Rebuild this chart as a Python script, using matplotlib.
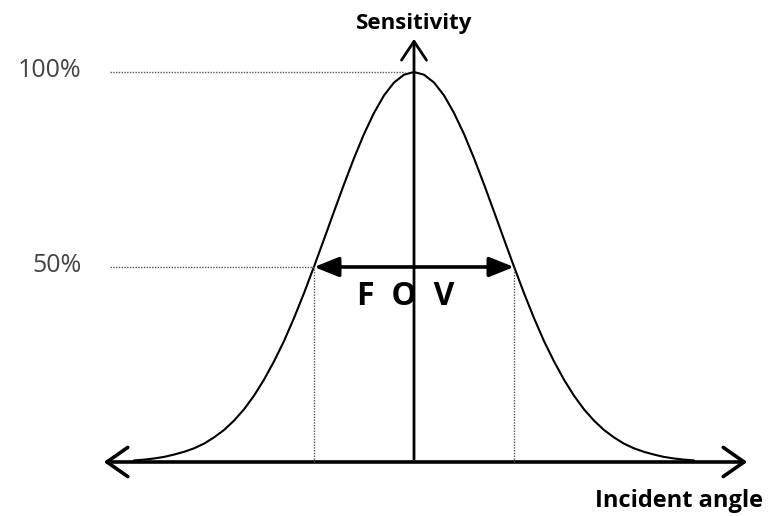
import numpy as np
import matplotlib
matplotlib.use('Agg')
from matplotlib import pyplot as plt
from matplotlib.patches import FancyArrowPatch

# Incident angle (arbitrary units, 0 = normal incidence) and relative sensitivity (%).
angle = [-56, -54, -52, -50, -48, -46, -44, -42, -40, -38, -36, -34, -32, -30,
         -28, -26, -24, -22, -20, -18, -16, -14, -12, -10, -8, -6, -4, -2, 0,
         2, 4, 6, 8, 10, 12, 14, 16, 18, 20, 22, 24, 26, 28, 30,
         32, 34, 36, 38, 40, 42, 44, 46, 48, 50, 52, 54, 56]
sensitivity = [0.4, 0.6, 0.9, 1.3, 1.9, 2.6, 3.5, 4.7, 6.3, 8.2, 10.6, 13.5, 17.0, 21.1,
               25.8, 31.0, 36.9, 43.3, 50.1, 57.1, 64.2, 71.2, 77.9, 84.1, 89.5, 94.0, 97.3, 99.3, 100,
               99.3, 97.3, 94.0, 89.5, 84.1, 77.9, 71.2, 64.2, 57.1, 50.1, 43.3, 36.9, 31.0, 25.8, 21.1,
               17.0, 13.5, 10.6, 8.2, 6.3, 4.7, 3.5, 2.6, 1.9, 1.3, 0.9, 0.6, 0.4]

fov_edges = [-20, 20]      # angles where sensitivity drops to 50%
levels = [100, 50]
level_labels = ['100%', '50%']

font = ['Open Sans', 'DejaVu Sans']

fig = plt.figure(figsize=(7.72, 5.16), dpi=100)
ax = fig.add_axes([0, 0, 1, 1])
ax.set_xlim(-82.8, 71.6)
ax.set_ylim(-13.85, 118.46)
ax.axis('off')

# Bell curve.
ax.plot(angle, sensitivity, color='black', lw=1.5, solid_capstyle='round')

# Dotted guide lines.
dot = dict(color='#555555', lw=1.0, ls=(0, (1, 1)))
ax.plot([-60.8, -1.8], [levels[0], levels[0]], **dot)
ax.plot([-60.8, fov_edges[0]], [levels[1], levels[1]], **dot)
for e in fov_edges:
    ax.plot([e, e], [0, levels[1]], **dot)

for lvl, lab in zip(levels, level_labels):
    ax.text(-66.5, lvl + 0.3, lab, ha='right', va='center', fontsize=18,
            color='#444444', family=font)

# Axes arrows (open heads).
ax.add_patch(FancyArrowPatch((-62.6, 0), (67.2, 0),
                             arrowstyle='<->,head_length=0.5,head_width=0.35',
                             mutation_scale=30, lw=2.6, color='black'))
ax.add_patch(FancyArrowPatch((0, 0), (0, 109.2),
                             arrowstyle='->,head_length=0.45,head_width=0.3',
                             mutation_scale=30, lw=2.0, color='black'))

# FOV double arrow (filled heads).
ax.add_patch(FancyArrowPatch((fov_edges[0], levels[1]), (fov_edges[1], levels[1]),
                             arrowstyle='<|-|>,head_length=0.75,head_width=0.3',
                             mutation_scale=20, lw=2.6, color='black',
                             shrinkA=0, shrinkB=0))
ax.text(-1.6, 42.5, 'F  O  V', ha='center', va='center', fontsize=23,
        fontweight='bold', family=font)

ax.text(0, 112.5, 'Sensitivity', ha='center', va='center', fontsize=16,
        fontweight='bold', family=font)
ax.text(69.8, -10.0, 'Incident angle', ha='right', va='center', fontsize=17,
        fontweight='bold', family=font)

fig.savefig('out.png', dpi=100, facecolor='white')
